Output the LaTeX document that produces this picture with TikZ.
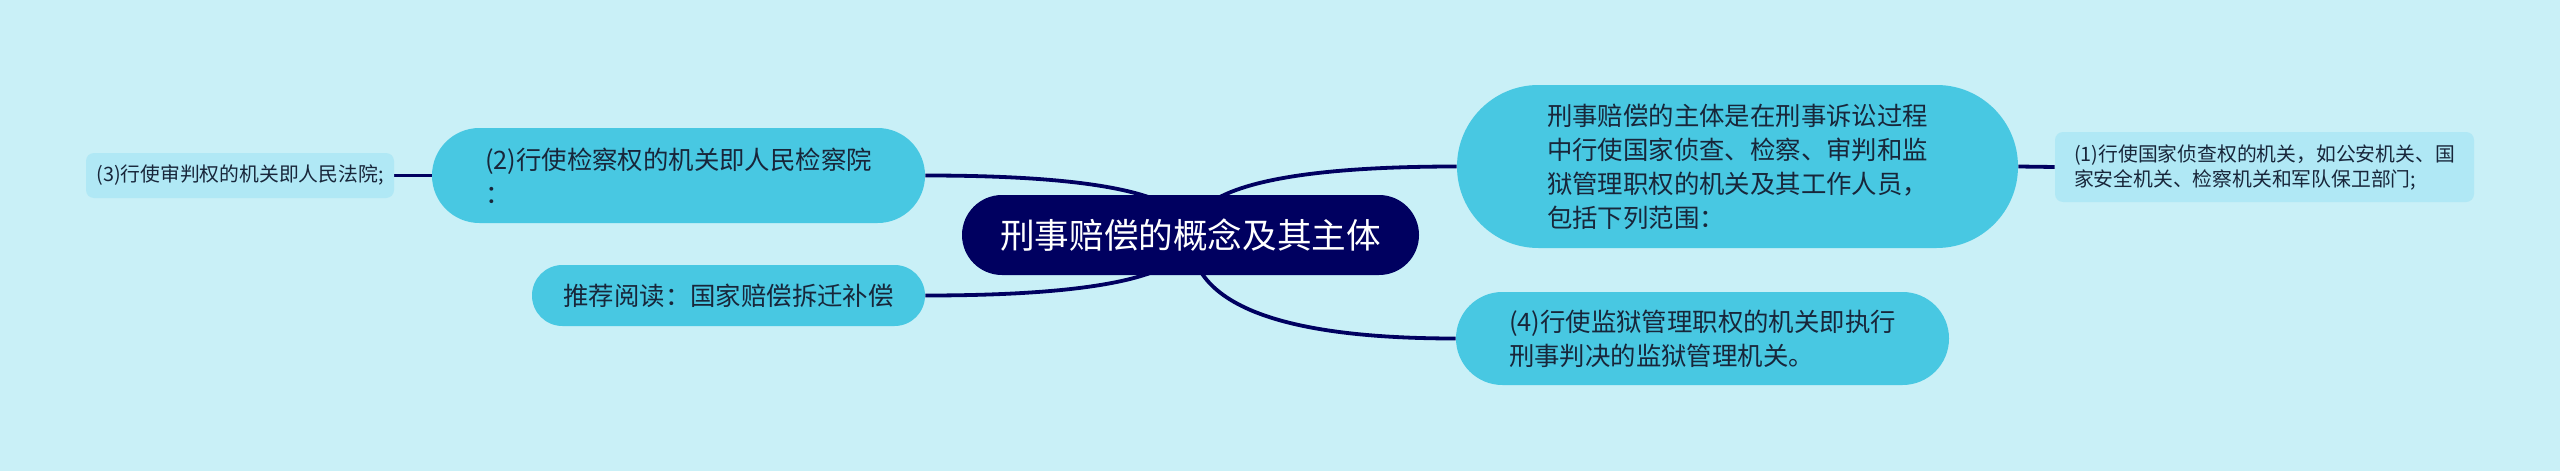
\documentclass[tikz,border=0pt]{standalone}
\usepackage{fontspec}
\newfontfamily\cjk{Noto Sans CJK SC}
\usetikzlibrary{calc}
\definecolor{bgc}{HTML}{C9F0F7}
\definecolor{mainfill}{HTML}{48C8E2}
\definecolor{lightfill}{HTML}{B0E8F5}
\definecolor{navy}{HTML}{000060}
\definecolor{txt}{HTML}{18263A}
\pgfdeclarelayer{back}
\pgfdeclarelayer{edges}
\pgfsetlayers{back,edges,main}
\tikzset{
  base/.style={inner sep=0pt, align=left, text=txt},
  rootbox/.style={base, fill=navy, text=white, align=center,
    font=\cjk\fontsize{17.3}{21}\selectfont},
  mainbox/.style={base, fill=mainfill, font=\cjk\fontsize{12.7}{17}\selectfont},
  leafbox/.style={base, fill=lightfill, rounded corners=4pt,
    font=\cjk\fontsize{9.9}{12.5}\selectfont},
  link/.style={draw=navy, line width=1.9pt},
}
\begin{document}
\begin{tikzpicture}[x=0.5pt,y=-0.5pt]
\begin{pgfonlayer}{back}
\fill[bgc] (0,0) rectangle (2560,471);
\end{pgfonlayer}
\useasboundingbox (0,0) rectangle (2560,471);

\node[rootbox, minimum width=228.5pt, minimum height=40pt, rounded corners=20pt] (root) at (1190.5,235) {刑事赔偿的概念及其主体};

\node[mainbox, minimum width=246.5pt, minimum height=47.5pt, rounded corners=23.7pt] (n2) at (678.5,175.5) {(2)行使检察权的机关即人民检察院\\：};
\node[mainbox, minimum width=196.5pt, minimum height=30.5pt, rounded corners=15.2pt] (nr) at (728.5,295.5) {推荐阅读：国家赔偿拆迁补偿};
\node[mainbox, minimum width=280.5pt, minimum height=81.5pt, rounded corners=40.7pt] (nb) at (1737.5,166.5) {刑事赔偿的主体是在刑事诉讼过程\\中行使国家侦查、检察、审判和监\\狱管理职权的机关及其工作人员，\\包括下列范围：};
\node[mainbox, minimum width=246.5pt, minimum height=46.5pt, rounded corners=23.2pt] (n4) at (1702.5,338.5) {(4)行使监狱管理职权的机关即执行\\刑事判决的监狱管理机关。};

\node[leafbox, minimum width=154pt, minimum height=22.5pt] (n3) at (240,175.5) {(3)行使审判权的机关即人民法院;};
\node[leafbox, minimum width=209.5pt, minimum height=35pt] (n1) at (2264.5,167) {(1)行使国家侦查权的机关，如公安机关、国\\家安全机关、检察机关和军队保卫部门;};

\coordinate (k2) at (root.center|-n2.east);
\coordinate (kr) at (root.center|-nr.east);
\coordinate (kb) at (root.center|-nb.west);
\coordinate (k4) at (root.center|-n4.west);

\begin{pgfonlayer}{edges}
\draw[link] (root.center) .. controls ($(root.center)!0.6667!(k2)$) and ($(n2.east)!0.6667!(k2)$) .. (n2.east);
\draw[link] (root.center) .. controls ($(root.center)!0.6667!(kr)$) and ($(nr.east)!0.6667!(kr)$) .. (nr.east);
\draw[link] (root.center) .. controls ($(root.center)!0.6667!(kb)$) and ($(nb.west)!0.6667!(kb)$) .. (nb.west);
\draw[link] (root.center) .. controls ($(root.center)!0.6667!(k4)$) and ($(n4.west)!0.6667!(k4)$) .. (n4.west);
\draw[link] (n2.west) -- (n3.east);
\draw[link] (nb.east) -- (n1.west);
\end{pgfonlayer}
\end{tikzpicture}
\end{document}
